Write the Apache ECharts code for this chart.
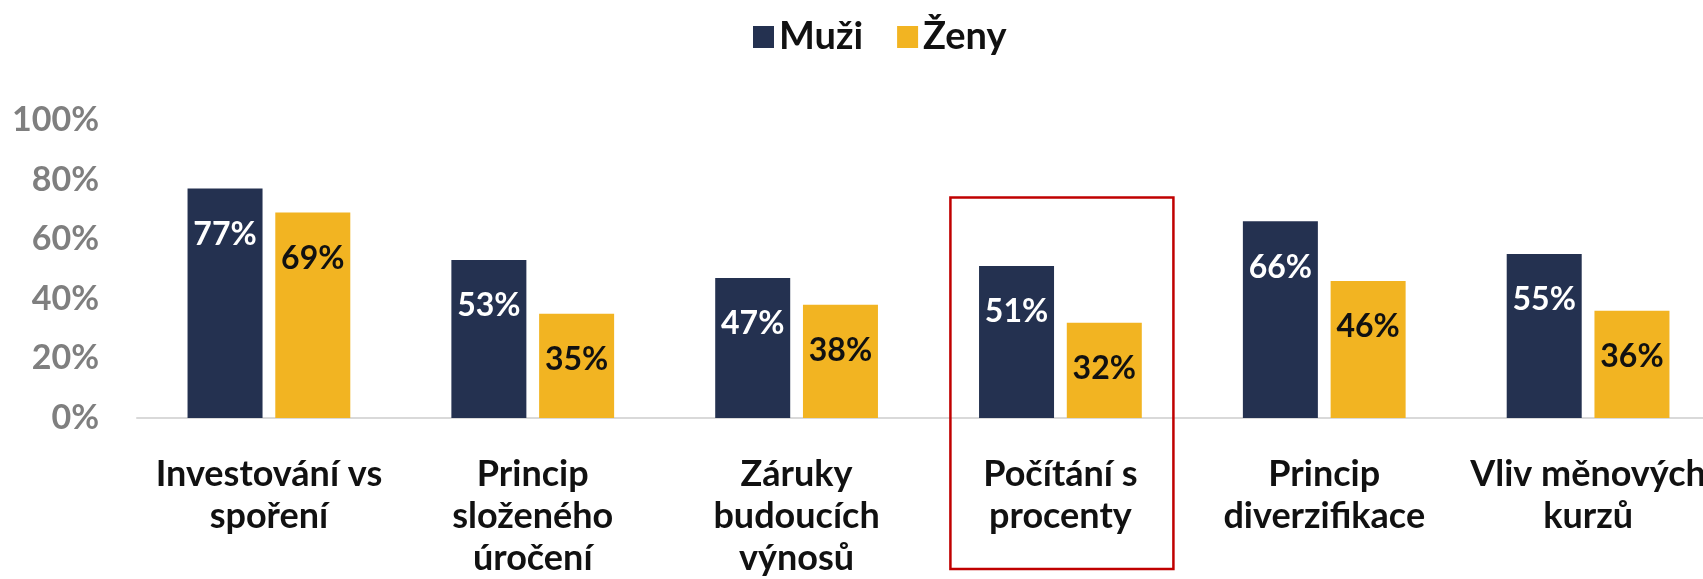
<!DOCTYPE html>
<html>
<head>
<meta charset="utf-8">
<script src="https://cdn.jsdelivr.net/npm/echarts@6/dist/echarts.min.js"></script>
<style>
  html, body { margin: 0; padding: 0; background: #fff; overflow: hidden; }
  #chart { width: 1720px; height: 579px; }
</style>
</head>
<body>
<div id="chart"></div>
<script>
const categories = [
  'Investování vs\nspoření',
  'Princip\nsloženého\núročení',
  'Záruky\nbudoucích\nvýnosů',
  'Počítání s\nprocenty',
  'Princip\ndiverzifikace',
  'Vliv měnových\nkurzů'
]
const muzi = [77, 53, 47, 51, 66, 55]
const zeny = [69, 35, 38, 32, 46, 36]
const seriesNames = ['Muži', 'Ženy']
const highlighted = 'Počítání s\nprocenty'

const FONT = 'Lato'
const NAVY = '#243150'
const GOLD = '#F2B422'

const chart = echarts.init(document.getElementById('chart'))

const labelStyle = color => ({
  show: true,
  position: 'insideTop',
  distance: 30,
  formatter: '{c}%',
  color: color,
  fontFamily: FONT,
  fontWeight: 'bold',
  fontSize: 32
})

chart.setOption({
  animation: false,
  legend: {
    data: seriesNames,
    left: 748,
    top: 13,
    icon: 'rect',
    itemWidth: 21,
    itemHeight: 22,
    itemGap: 34,
    textStyle: {
      fontFamily: FONT,
      fontWeight: 'bold',
      fontSize: 38,
      color: '#111'
    }
  },
  grid: {
    left: 137,
    right: 0,
    top: 120,
    bottom: 158,
    containLabel: false
  },
  xAxis: {
    type: 'category',
    data: categories,
    axisTick: { show: false },
    axisLine: { lineStyle: { color: '#d9d9d9', width: 2 } },
    axisLabel: {
      interval: 0,
      margin: 35,
      color: '#111',
      fontFamily: FONT,
      fontWeight: 'bold',
      fontSize: 36,
      lineHeight: 42
    }
  },
  yAxis: {
    type: 'value',
    min: 0,
    max: 100,
    interval: 20,
    splitLine: { show: false },
    axisLine: { show: false },
    axisTick: { show: false },
    axisLabel: {
      formatter: '{value}%',
      margin: 38,
      color: '#7f7f7f',
      fontFamily: FONT,
      fontWeight: 'bold',
      fontSize: 34
    }
  },
  series: [
    {
      name: seriesNames[0],
      type: 'bar',
      data: muzi,
      barWidth: 75,
      barGap: '17%',
      itemStyle: { color: NAVY },
      label: labelStyle('#ffffff')
    },
    {
      name: seriesNames[1],
      type: 'bar',
      data: zeny,
      barWidth: 75,
      barGap: '17%',
      itemStyle: { color: GOLD },
      label: labelStyle('#111111')
    }
  ]
})

// red highlight frame around one category, placed from the axis scale
const cx = chart.convertToPixel({ xAxisIndex: 0 }, highlighted)
const topY = chart.convertToPixel({ yAxisIndex: 0 }, 74)
chart.setOption({
  graphic: [{
    type: 'rect',
    shape: { x: cx - 110, y: topY, width: 223, height: 569 - topY },
    style: { fill: 'none', stroke: '#c00000', lineWidth: 2.5 },
    z: 100
  }]
})

window.addEventListener('resize', () => chart.resize())
</script>
</body>
</html>
